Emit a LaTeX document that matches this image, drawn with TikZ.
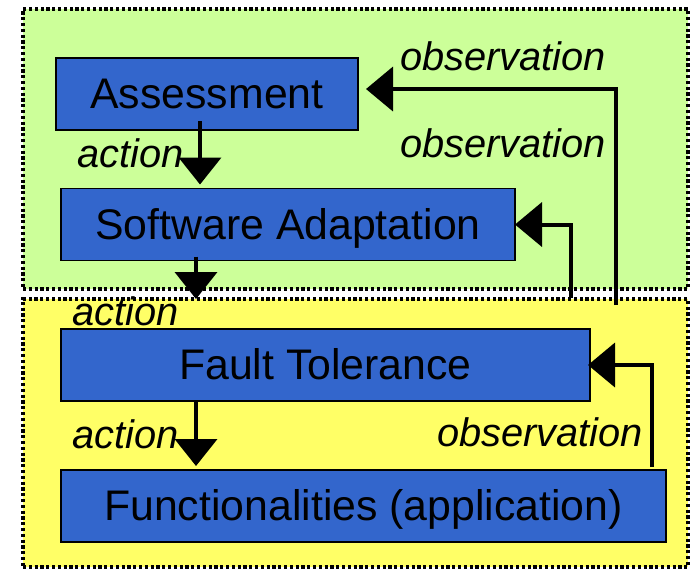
\documentclass[tikz,border=0pt]{standalone}
\usepackage{fontspec}
\setmainfont{Liberation Sans}
\usetikzlibrary{arrows.meta}

\definecolor{boxblue}{RGB}{51,102,204}
\definecolor{upgreen}{RGB}{204,255,153}
\definecolor{lowyellow}{RGB}{255,255,102}

\tikzstyle{region}=[draw=black,line width=3.2pt,dash pattern=on 3.2pt off 2.6pt,inner sep=0pt,outer sep=0pt,anchor=north west]
\tikzstyle{layer}=[draw=black,fill=boxblue,line width=1.2pt,inner sep=0pt,outer sep=0pt,minimum height=72pt,text height=29.5pt,text depth=0pt,font=\fontsize{42.8}{50}\selectfont]
\tikzstyle{lbl}=[inner sep=0pt,anchor=base west,font=\fontsize{39.8}{47}\selectfont\itshape]
\tikzstyle{act}=[line width=4pt,-{Triangle[length=27pt,width=42pt]}]
\tikzstyle{obs}=[line width=4pt,-{Triangle[length=27pt,width=44pt]}]

\begin{document}
\begin{tikzpicture}[x=1pt,y=-1pt]
		\useasboundingbox (0,0) rectangle (692,571);
		\node (upper) at (23,9) [region,fill=upgreen,minimum width=665pt,minimum height=280pt] {};
		\node (lower) at (23,299) [region,fill=lowyellow,minimum width=665pt,minimum height=268pt] {};

		\node (assess) at (207,94) [layer,minimum width=302pt] {Assessment};
		\node (soft) at (288,224.5) [layer,minimum width=454pt] {Software Adaptation};
		\node (fault) at (325.5,365) [layer,minimum width=529pt] {Fault Tolerance};
		\node (func) at (363.5,506) [layer,minimum width=605pt] {Functionalities (application)};

		\coordinate (o1) at (616,305);
		\coordinate (o2) at (571,298);

		\draw [act,shorten <=-9pt,shorten >=4pt] ([xshift=-7pt]assess.south) -- ([xshift=-7pt]assess.south |- soft.north);
		\draw [act,shorten <=-4pt] ([xshift=-92pt]soft.south) -- ([xshift=-92pt]soft.south |- lower.north);
		\draw [act,shorten >=4pt] ([xshift=-129.5pt]fault.south) -- ([xshift=-129.5pt]fault.south |- func.north);

		\draw [obs,shorten >=8pt] (o1) |- ([yshift=5pt]assess.east);
		\draw [obs] (o2) |- (soft.east);
		\draw [obs,shorten <=3pt,shorten >=-2pt] ([xshift=-14pt]func.north east) |- (fault.east);

		\node (a1) at (77,167) [lbl] {action};
		\node (a2) at (72,325) [lbl] {action};
		\node (a3) at (72,448) [lbl] {action};
		\node (b1) at (400,70) [lbl] {observation};
		\node (b2) at (400,157) [lbl] {observation};
		\node (b3) at (437,446) [lbl] {observation};
	\end{tikzpicture}
\end{document}
